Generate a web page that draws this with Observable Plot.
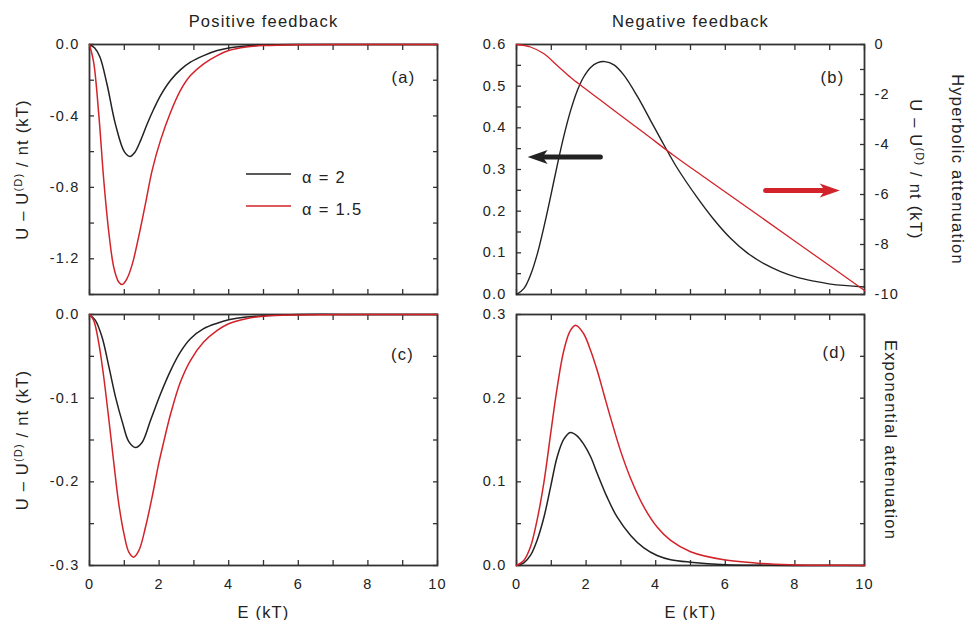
<!DOCTYPE html>
<html><head><meta charset="utf-8">
<script src="https://cdn.jsdelivr.net/npm/d3@7"></script>
<script src="https://cdn.jsdelivr.net/npm/@observablehq/plot@0.6"></script>
<style>
body{margin:0;background:#fff;}
#wrap{position:relative;width:966px;height:620px;overflow:hidden;background:#fff;}
</style></head><body><div id="wrap"></div>
<script>
// ---------- data ----------
const X_MINOR = [0,1,2,3,4,5,6,7,8,9,10];
const X_LABELS = [0,2,4,6,8,10];

const A_MINOR = [0,-0.2,-0.4,-0.6,-0.8,-1.0,-1.2,-1.4];
const A_LABELS = [0,-0.4,-0.8,-1.2];
const B_MINOR = [0,0.05,0.1,0.15,0.2,0.25,0.3,0.35,0.4,0.45,0.5,0.55,0.6];
const B_LABELS = [0,0.1,0.2,0.3,0.4,0.5,0.6];
const BR_MINOR = [0,-1,-2,-3,-4,-5,-6,-7,-8,-9,-10];
const BR_LABELS = [0,-2,-4,-6,-8,-10];
const C_MINOR = [0,-0.05,-0.1,-0.15,-0.2,-0.25,-0.3];
const C_LABELS = [0,-0.1,-0.2,-0.3];
const D_MINOR = [0,0.05,0.1,0.15,0.2,0.25,0.3];
const D_LABELS = [0,0.1,0.2,0.3];

// (a) positive feedback, hyperbolic
const A_BLACK_E = [0,0.15,0.3,0.5,0.75,1.0,1.16,1.3,1.47,1.66,1.85,2.04,2.33,2.61,2.9,3.28,3.67,4.0,4.5,5.0,6.0,8.0,10];
const A_BLACK_U = [0,-0.02,-0.07,-0.22,-0.45,-0.60,-0.627,-0.605,-0.537,-0.444,-0.36,-0.286,-0.20,-0.142,-0.099,-0.062,-0.034,-0.019,-0.008,-0.003,0,0,0];
const A_RED_E = [0,0.12,0.27,0.41,0.56,0.7,0.84,0.94,1.08,1.23,1.42,1.61,1.8,2.04,2.33,2.61,2.9,3.28,3.67,4.0,4.5,5.0,6.0,8.0,10];
const A_RED_U = [0,-0.1,-0.4,-0.76,-1.06,-1.25,-1.33,-1.344,-1.31,-1.23,-1.07,-0.89,-0.705,-0.537,-0.379,-0.258,-0.174,-0.108,-0.062,-0.034,-0.014,-0.006,-0.001,0,0];

// (b) negative feedback, hyperbolic
const B_BLACK_E = [0,0.21,0.4,0.59,0.79,0.98,1.17,1.36,1.55,1.74,1.93,2.13,2.32,2.54,2.8,3.08,3.47,3.85,4.23,4.6,5.19,5.67,6.15,6.63,7.11,7.59,8.07,8.55,9.03,10];
const B_BLACK_U = [0,0.014,0.046,0.095,0.163,0.235,0.31,0.38,0.44,0.488,0.522,0.545,0.556,0.559,0.551,0.527,0.476,0.418,0.36,0.306,0.233,0.18,0.135,0.10,0.074,0.055,0.041,0.032,0.025,0.018];
const B_RED_E = [0,0.4,0.79,1.17,1.55,1.89,2.32,2.7,3.66,4.52,5.5,7.0,8.5,10];
const B_RED_U = [0,-0.1,-0.37,-0.84,-1.31,-1.68,-2.13,-2.53,-3.53,-4.44,-5.41,-6.88,-8.36,-9.84];
const ARROW_LEFT = [{from:2.41, to:0.32, y:0.33}];
const ARROW_RIGHT = [{from:7.16, to:9.29, y:-5.84}];

// (c) positive feedback, exponential
const C_BLACK_E = [0,0.17,0.36,0.56,0.75,0.94,1.13,1.32,1.51,1.75,2.04,2.33,2.61,2.9,3.28,3.67,4.0,4.5,5.0,6.0,8.0,10];
const C_BLACK_U = [0,-0.007,-0.027,-0.063,-0.099,-0.128,-0.152,-0.159,-0.153,-0.127,-0.095,-0.067,-0.045,-0.029,-0.017,-0.0104,-0.0064,-0.003,-0.0015,0,0,0];
const C_RED_E = [0,0.12,0.27,0.41,0.56,0.7,0.84,0.99,1.13,1.27,1.42,1.61,1.8,1.99,2.14,2.33,2.61,2.9,3.28,3.67,4.0,4.5,5.0,6.0,8.0,10];
const C_RED_U = [0,-0.007,-0.035,-0.075,-0.127,-0.178,-0.226,-0.262,-0.284,-0.29,-0.282,-0.254,-0.218,-0.178,-0.151,-0.119,-0.081,-0.055,-0.033,-0.019,-0.011,-0.005,-0.002,-0.0005,0,0];

// (d) negative feedback, exponential
const D_BLACK_E = [0,0.21,0.4,0.59,0.79,0.98,1.17,1.36,1.55,1.74,1.93,2.13,2.32,2.6,2.89,3.28,3.66,4.04,4.43,5.0,6.0,7.0,8.0,10];
const D_BLACK_U = [0,0.003,0.012,0.03,0.058,0.094,0.13,0.151,0.159,0.155,0.145,0.13,0.11,0.082,0.058,0.036,0.021,0.012,0.007,0.004,0.001,0.0003,0,0];
const D_RED_E = [0,0.21,0.4,0.59,0.79,0.98,1.17,1.36,1.55,1.71,1.93,2.13,2.32,2.51,2.7,2.99,3.28,3.66,4.04,4.43,5.0,5.96,6.92,7.87,9.0,10];
const D_RED_U = [0,0.006,0.022,0.054,0.10,0.157,0.213,0.257,0.281,0.287,0.277,0.257,0.233,0.205,0.177,0.137,0.104,0.07,0.046,0.03,0.0165,0.0068,0.0028,0.001,0.0003,0];

const TITLES = ["Positive feedback", "Negative feedback"];
const YLABEL = "U – U(D) / nt (kT)";
const XLABEL = "E (kT)";
const ROW_LABELS = ["Hyperbolic attenuation", "Exponential attenuation"];
const PANEL_TAGS = ["(a)", "(b)", "(c)", "(d)"];
const LEGEND = ["α = 2", "α = 1.5"];

// ---------- styling ----------
const FONT = "'Liberation Sans', Arial, Helvetica, sans-serif";
const INK = "#333";
const BLACK = "#222";
const RED = "#d2232a";
const FS = 16.5;
const wrap = document.getElementById("wrap");

function rows(E, V){ return E.map((e,i)=>({E:e, V:V[i]})); }
function style(){ return {background:"transparent", overflow:"visible", fontFamily:FONT, fontSize:"14.5px", color:"#222", letterSpacing:"1.2px"}; }
const blank = () => "";
const f1 = d => d.toFixed(1);

function ticksFrame(yMinor, left=true, right=true){
  const m = [
    Plot.frame({stroke:INK, strokeWidth:1.8}),
    Plot.axisX({anchor:"bottom", ticks:X_MINOR, tickSize:-5, tickFormat:blank, stroke:INK, strokeWidth:1.3, label:null}),
    Plot.axisX({anchor:"top", ticks:X_MINOR, tickSize:-5, tickFormat:blank, stroke:INK, strokeWidth:1.3, label:null})
  ];
  if (left) m.push(Plot.axisY({anchor:"left", ticks:yMinor, tickSize:-5, tickFormat:blank, stroke:INK, strokeWidth:1.3, label:null}));
  if (right) m.push(Plot.axisY({anchor:"right", ticks:yMinor, tickSize:-5, tickFormat:blank, stroke:INK, strokeWidth:1.3, label:null}));
  return m;
}
function txt(s, o){ return Plot.text([s], {text:d=>d, fontSize:FS, textAnchor:"middle", lineAnchor:"middle", ...o}); }
function line(data, color, w=1.5){ return Plot.line(data, {x:"E", y:"V", stroke:color, strokeWidth:w, curve:"catmull-rom"}); }
function xLabels(){ return Plot.axisX({anchor:"bottom", ticks:X_LABELS, tickSize:0, tickPadding:13, tickFormat:d=>String(d), label:null}); }

function supify(svg){
  d3.select(svg).selectAll("text").filter(function(){ return this.textContent === YLABEL; }).each(function(){
    const t = d3.select(this); t.text(null);
    t.append("tspan").text("U – U");
    t.append("tspan").attr("dy", -6).attr("font-size", 11).text("(D)");
    t.append("tspan").attr("dy", 6).text(" / nt (kT)");
  });
}
function place(svg, left, top){
  svg.style.position = "absolute"; svg.style.left = left + "px"; svg.style.top = top + "px";
  supify(svg); wrap.appendChild(svg);
}

const headRight = {draw(c){ c.moveTo(0,0); c.lineTo(-20,-7); c.lineTo(-15,0); c.lineTo(-20,7); c.closePath(); }};
const headLeft  = {draw(c){ c.moveTo(0,0); c.lineTo(20,-7); c.lineTo(15,0); c.lineTo(20,7); c.closePath(); }};

const LEFT = {width:483, marginLeft:89, marginRight:46};
const RIGHT = {width:483, marginLeft:33, marginRight:102};
const TOP = {height:300, marginTop:44, marginBottom:6};
const BOT = {height:320, marginTop:14, marginBottom:55};

// (a)
place(Plot.plot({
  ...LEFT, ...TOP, style:style(),
  x:{domain:[0,10], axis:null}, y:{domain:[-1.4,0], axis:null},
  marks:[
    ...ticksFrame(A_MINOR),
    Plot.axisY({anchor:"left", ticks:A_LABELS, tickSize:0, tickPadding:10, tickFormat:f1, label:null}),
    line(rows(A_BLACK_E, A_BLACK_U), BLACK),
    line(rows(A_RED_E, A_RED_U), RED),
    txt(TITLES[0], {frameAnchor:"top", dy:-23}),
    txt(YLABEL, {frameAnchor:"left", dx:-67, rotate:-90}),
    txt(PANEL_TAGS[0], {frameAnchor:"top-right", dx:-34, dy:33})
  ]
}), 0, 0);

// (b) left scale
place(Plot.plot({
  ...RIGHT, ...TOP, style:style(),
  x:{domain:[0,10], axis:null}, y:{domain:[0,0.6], axis:null},
  marks:[
    ...ticksFrame(B_MINOR, true, false),
    Plot.axisY({anchor:"left", ticks:B_LABELS, tickSize:0, tickPadding:10, tickFormat:f1, label:null}),
    line(rows(B_BLACK_E, B_BLACK_U), BLACK, 1.4),
    Plot.arrow(ARROW_LEFT, {x1:"from", x2:"to", y1:"y", y2:"y", stroke:BLACK, strokeWidth:5, headLength:0, insetEnd:12, strokeLinecap:"round"}),
    Plot.dot(ARROW_LEFT, {x:"to", y:"y", symbol:headLeft, fill:BLACK, stroke:null}),
    txt(TITLES[1], {frameAnchor:"top", dy:-23}),
    txt(PANEL_TAGS[1], {frameAnchor:"top-right", dx:-32, dy:33})
  ]
}), 483, 0);

// (b) right scale overlay
place(Plot.plot({
  ...RIGHT, ...TOP, style:style(),
  x:{domain:[0,10], axis:null}, y:{domain:[-10,0], axis:null},
  marks:[
    Plot.axisY({anchor:"right", ticks:BR_MINOR, tickSize:-5, tickFormat:blank, stroke:INK, strokeWidth:1.3, label:null}),
    Plot.axisY({anchor:"right", ticks:BR_LABELS, tickSize:0, tickPadding:10, tickFormat:d=>String(d), label:null}),
    line(rows(B_RED_E, B_RED_U), RED, 1.3),
    Plot.arrow(ARROW_RIGHT, {x1:"from", x2:"to", y1:"y", y2:"y", stroke:RED, strokeWidth:5, headLength:0, insetEnd:12, strokeLinecap:"round"}),
    Plot.dot(ARROW_RIGHT, {x:"to", y:"y", symbol:headRight, fill:RED, stroke:null}),
    txt(YLABEL, {frameAnchor:"right", dx:51, rotate:90}),
    txt(ROW_LABELS[0], {frameAnchor:"right", dx:93, rotate:90})
  ]
}), 483, 0);

// (c)
place(Plot.plot({
  ...LEFT, ...BOT, style:style(),
  x:{domain:[0,10], axis:null}, y:{domain:[-0.3,0], axis:null},
  marks:[
    ...ticksFrame(C_MINOR),
    Plot.axisY({anchor:"left", ticks:C_LABELS, tickSize:0, tickPadding:10, tickFormat:f1, label:null}),
    xLabels(),
    line(rows(C_BLACK_E, C_BLACK_U), BLACK),
    line(rows(C_RED_E, C_RED_U), RED),
    txt(YLABEL, {frameAnchor:"left", dx:-67, rotate:-90}),
    txt(XLABEL, {frameAnchor:"bottom", dy:47}),
    txt(PANEL_TAGS[2], {frameAnchor:"top-right", dx:-35, dy:40})
  ]
}), 0, 300);

// (d)
place(Plot.plot({
  ...RIGHT, ...BOT, style:style(),
  x:{domain:[0,10], axis:null}, y:{domain:[0,0.3], axis:null},
  marks:[
    ...ticksFrame(D_MINOR),
    Plot.axisY({anchor:"left", ticks:D_LABELS, tickSize:0, tickPadding:10, tickFormat:f1, label:null}),
    xLabels(),
    line(rows(D_BLACK_E, D_BLACK_U), BLACK),
    line(rows(D_RED_E, D_RED_U), RED),
    txt(XLABEL, {frameAnchor:"bottom", dy:47}),
    txt(ROW_LABELS[1], {frameAnchor:"right", dx:26, rotate:90}),
    txt(PANEL_TAGS[3], {frameAnchor:"top-right", dx:-30, dy:38})
  ]
}), 483, 300);

// legend for (a)
const leg = d3.create("svg").attr("width", 966).attr("height", 620)
  .style("position","absolute").style("left","0px").style("top","0px")
  .style("font-family", FONT).style("font-size", FS + "px").style("letter-spacing","1.3px");
[[BLACK, 174], [RED, 206]].forEach(([c, y], i) => {
  leg.append("line").attr("x1", 246).attr("x2", 291).attr("y1", y).attr("y2", y).attr("stroke", c).attr("stroke-width", 1.5);
  leg.append("text").attr("x", 302).attr("y", y + 4).attr("dy", "0.32em").attr("fill", "#222").text(LEGEND[i]);
});
wrap.appendChild(leg.node());
</script></body></html>
